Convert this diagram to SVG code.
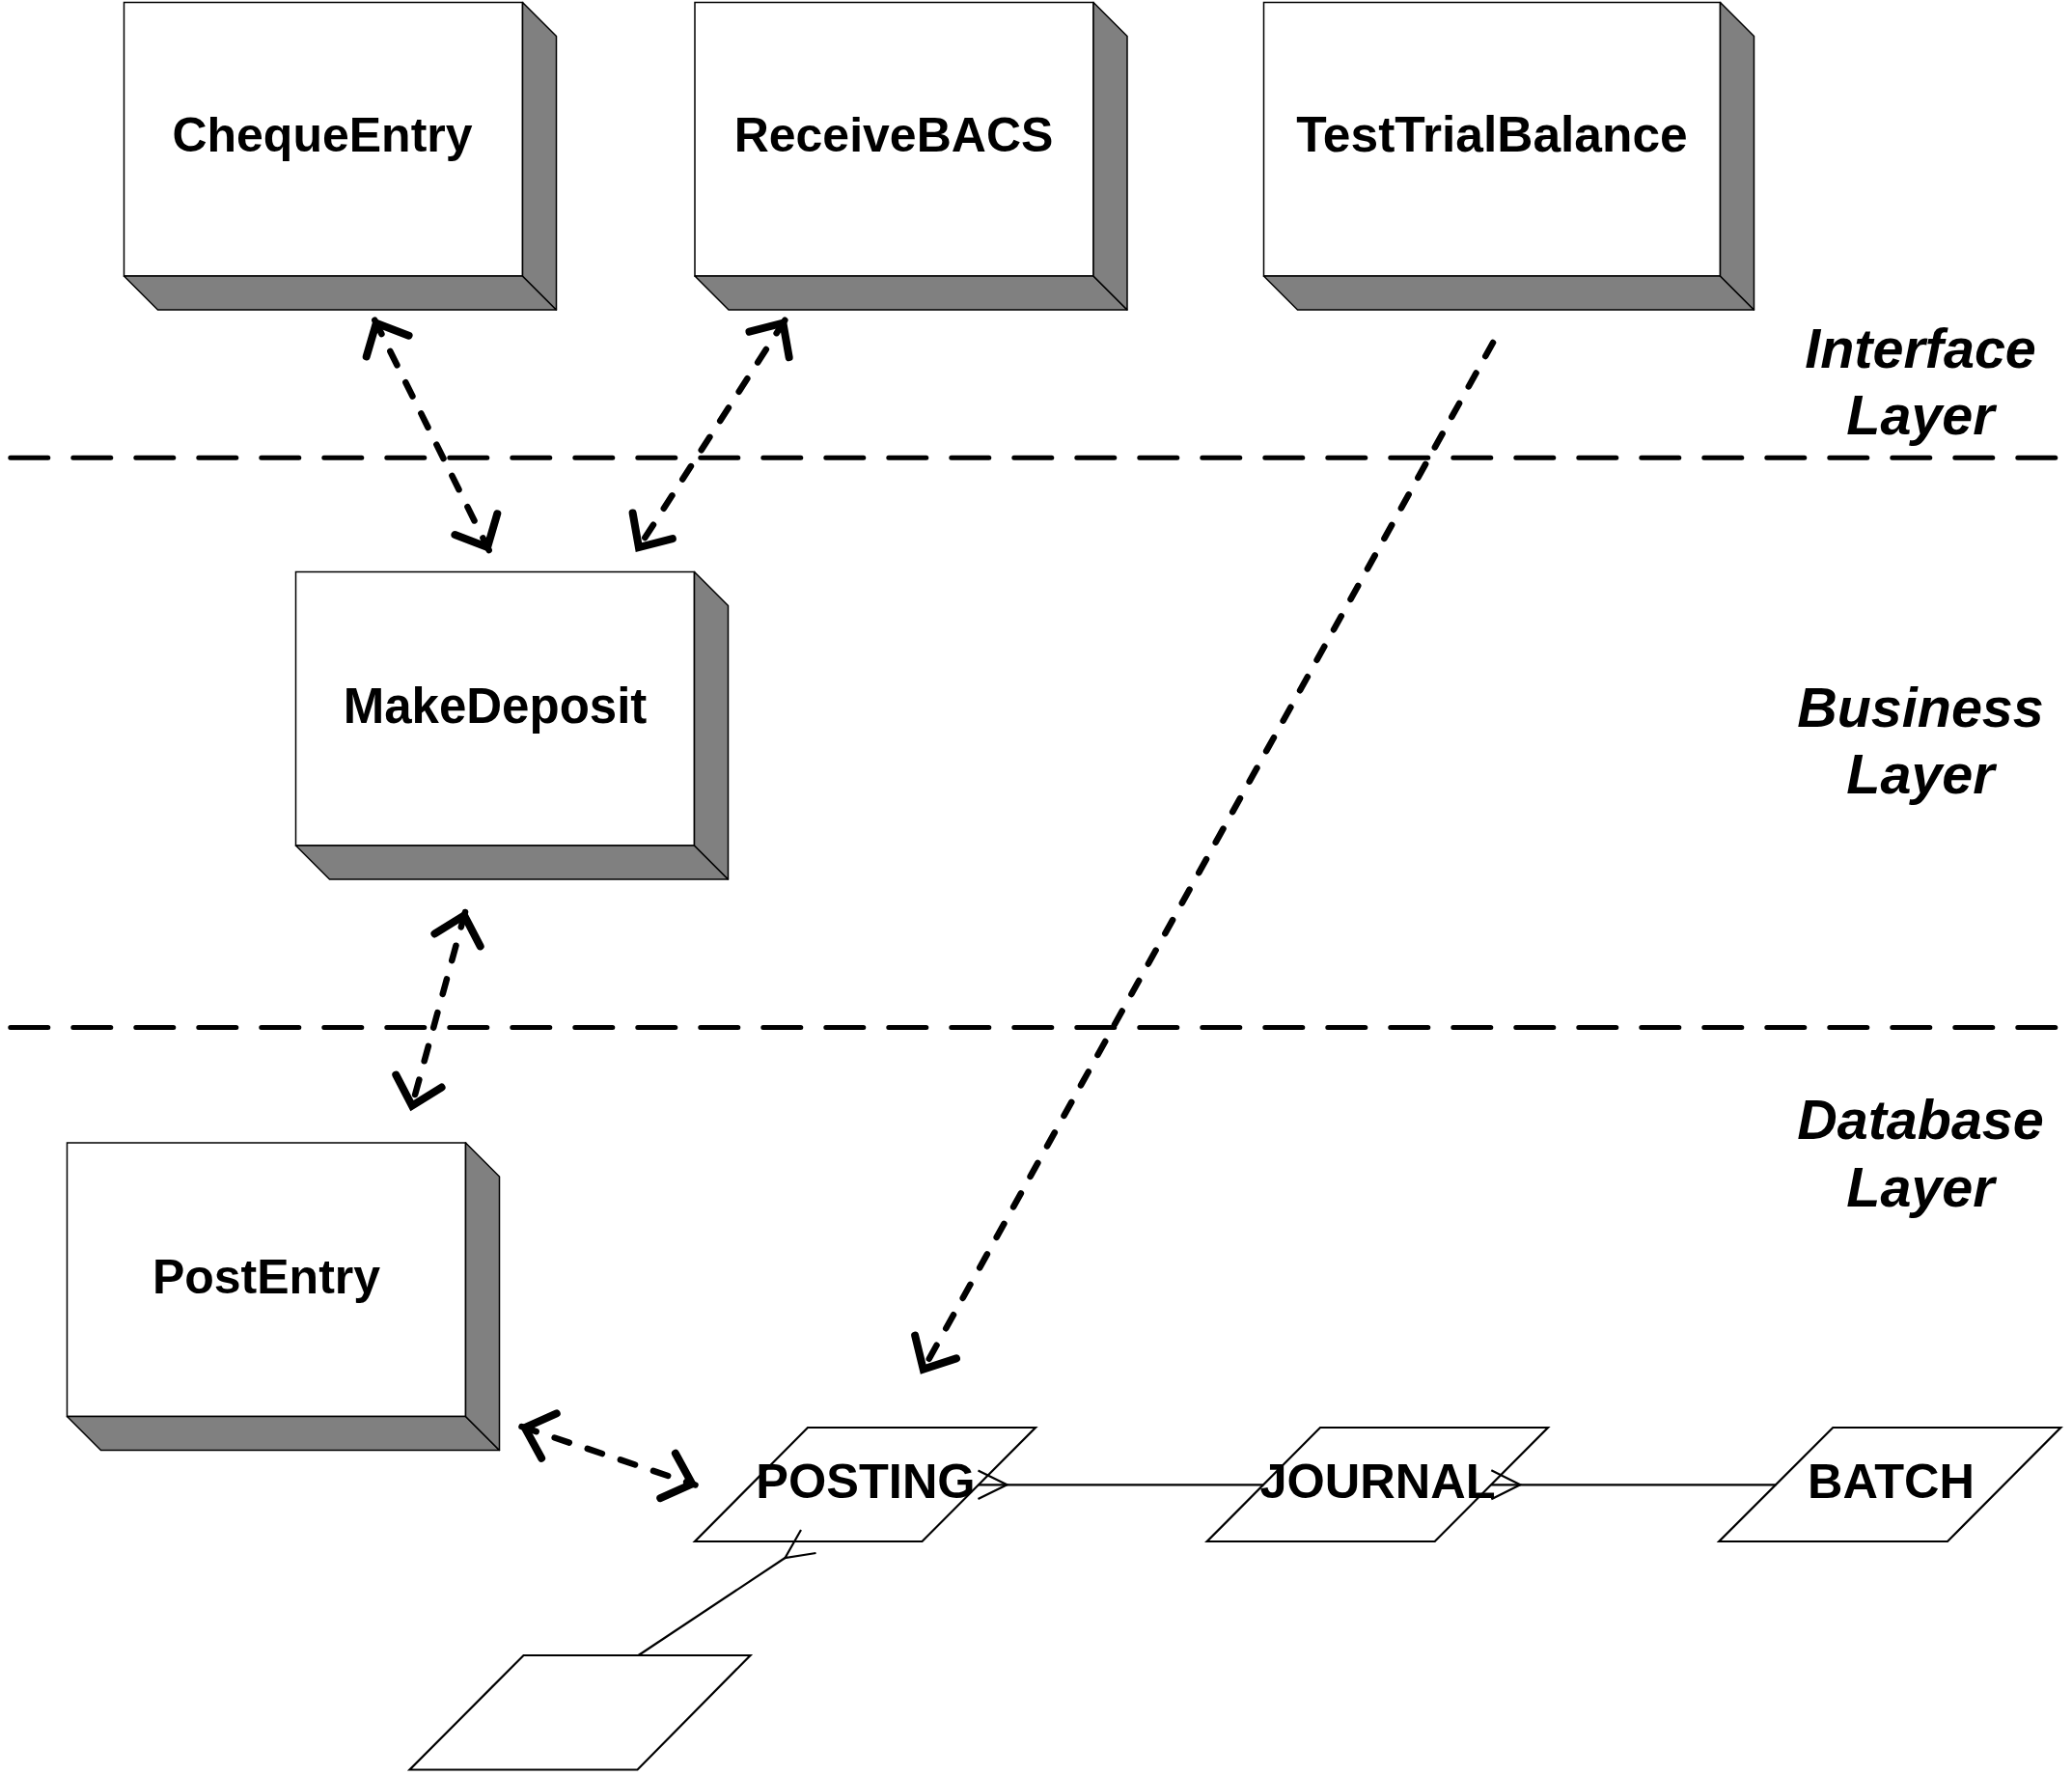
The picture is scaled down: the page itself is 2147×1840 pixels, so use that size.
<svg xmlns="http://www.w3.org/2000/svg" width="2147" height="1840" viewBox="0 0 2147 1840">
<style>
.front{fill:#fff;stroke:#000;stroke-width:1.5}
.depth{fill:#808080;stroke:#000;stroke-width:1.5;stroke-linejoin:round}
.lbl{font-family:"Liberation Sans",Arial,sans-serif;font-weight:bold;font-size:50px;text-anchor:middle;fill:#000}
.elbl{font-family:"Liberation Sans",Arial,sans-serif;font-weight:bold;font-size:50.5px;text-anchor:middle;fill:#000}
.layer{font-family:"Liberation Sans",Arial,sans-serif;font-weight:bold;font-style:italic;font-size:57.5px;text-anchor:middle;fill:#000}
.sep{stroke:#000;stroke-width:5;stroke-dasharray:39 26;stroke-linecap:round;fill:none}
.dep{stroke:#000;stroke-width:6.5;stroke-dasharray:16 20;stroke-linecap:round;fill:none;marker-end:url(#ah)}
.both{marker-start:url(#ah)}
.ent{fill:#fff;stroke:#000;stroke-width:2.2;stroke-linejoin:miter}
.rel{stroke:#000;stroke-width:2.2;fill:none}
</style>
<defs>
<marker id="ah" markerUnits="userSpaceOnUse" viewBox="-50 -50 100 100" markerWidth="100" markerHeight="100" refX="0" refY="0" orient="auto-start-reverse" overflow="visible">
<path d="M-30,-24.5 L-3.5,0 L-30,24.5" fill="none" stroke="#000" stroke-width="8" stroke-linecap="round" stroke-linejoin="miter" stroke-dasharray="none"/>
</marker>
</defs>
<rect width="2147" height="1840" fill="#fff"/>
<g id="separators">
<line class="sep" x1="10.8" y1="474.3" x2="2130" y2="474.3"/>
<line class="sep" x1="10.8" y1="1064.5" x2="2130" y2="1064.5"/>
</g>
<g id="layer-labels">
<text class="layer" x="1990" y="381">Interface</text>
<text class="layer" x="1990" y="450">Layer</text>
<text class="layer" x="1990" y="753">Business</text>
<text class="layer" x="1990" y="822">Layer</text>
<text class="layer" x="1990" y="1180">Database</text>
<text class="layer" x="1990" y="1250">Layer</text>
</g>
<g id="ChequeEntry">
<rect class="front" x="128.5" y="2.5" width="413" height="283.5"/>
<polygon class="depth" points="128.5,286 163.5,321 576.5,321 541.5,286"/>
<polygon class="depth" points="541.5,2.5 576.5,37.5 576.5,321 541.5,286"/>
<text class="lbl" x="334" y="157">ChequeEntry</text>
</g>
<g id="ReceiveBACS">
<rect class="front" x="720" y="2.5" width="413" height="283.5"/>
<polygon class="depth" points="720,286 755,321 1168,321 1133,286"/>
<polygon class="depth" points="1133,2.5 1168,37.5 1168,321 1133,286"/>
<text class="lbl" x="926" y="157">ReceiveBACS</text>
</g>
<g id="TestTrialBalance">
<rect class="front" x="1309.5" y="2.5" width="473" height="283.5"/>
<polygon class="depth" points="1309.5,286 1344.5,321 1817.5,321 1782.5,286"/>
<polygon class="depth" points="1782.5,2.5 1817.5,37.5 1817.5,321 1782.5,286"/>
<text class="lbl" x="1546" y="157" style="font-size:51.5px">TestTrialBalance</text>
</g>
<g id="MakeDeposit">
<rect class="front" x="306.5" y="592.5" width="413" height="283.5"/>
<polygon class="depth" points="306.5,876 341.5,911 754.5,911 719.5,876"/>
<polygon class="depth" points="719.5,592.5 754.5,627.5 754.5,911 719.5,876"/>
<text class="lbl" x="513" y="749" style="font-size:51px">MakeDeposit</text>
</g>
<g id="PostEntry">
<rect class="front" x="69.5" y="1184" width="413" height="283.5"/>
<polygon class="depth" points="69.5,1467.5 104.5,1502.5 517.5,1502.5 482.5,1467.5"/>
<polygon class="depth" points="482.5,1184 517.5,1219 517.5,1502.5 482.5,1467.5"/>
<text class="lbl" x="276" y="1340">PostEntry</text>
</g>
<g id="POSTING">
<polygon class="ent" points="837,1479 1073,1479 955.5,1597 720,1597"/>
<text class="elbl" x="897" y="1552">POSTING</text>
</g>
<g id="JOURNAL">
<polygon class="ent" points="1368,1479 1604,1479 1486.7,1597 1250.7,1597"/>
<text class="elbl" x="1427.5" y="1552">JOURNAL</text>
</g>
<g id="BATCH">
<polygon class="ent" points="1899.3,1479 2135.3,1479 2018,1597 1781.3,1597"/>
<text class="elbl" x="1959.5" y="1552">BATCH</text>
</g>
<g id="Unnamed">
<polygon class="ent" points="542.5,1715 777.5,1715 660.5,1833.5 424.5,1833.5"/>
</g>
<g id="connectors">
<path class="dep both" d="M388.3,331.7 L506.7,570"/>
<path class="dep both" d="M813.3,331.7 L660,570"/>
<path class="dep both" d="M482,945 L426,1149"/>
<path class="dep both" d="M540.5,1478 L720.5,1538.5"/>
<path class="dep" d="M1547,355 L955,1421.7"/>
<line class="rel" x1="1013.7" y1="1538.3" x2="1309.3" y2="1538.3"/>
<polyline class="rel" points="1013.5,1523.5 1043.5,1538.3 1013.5,1553"/>
<line class="rel" x1="1545.3" y1="1538.3" x2="1840.3" y2="1538.3"/>
<polyline class="rel" points="1545.3,1523.3 1575.3,1538.3 1545.3,1553.3"/>
<line class="rel" x1="661.5" y1="1715" x2="813.5" y2="1614"/>
<polyline class="rel" points="830,1585 813.5,1614 845.5,1609"/>
</g>
</svg>
